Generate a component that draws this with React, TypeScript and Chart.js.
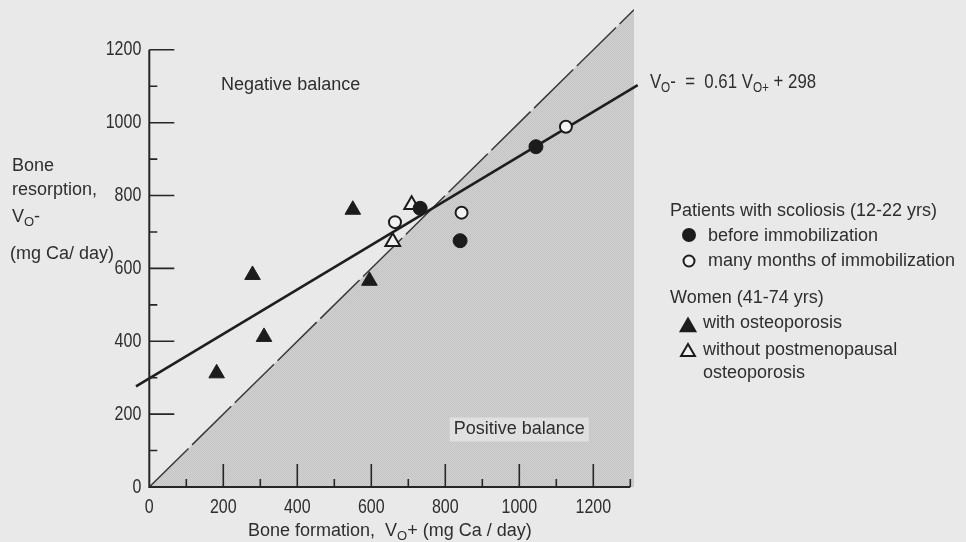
import React, { useEffect, useRef } from "react";
import { Chart, registerables } from "chart.js";

Chart.register(...registerables);

// ---- data ----
const filledCircles = [
  { x: 732, y: 765 },
  { x: 840, y: 676 },
  { x: 1045, y: 934 },
];
const openCircles = [
  { x: 664, y: 727 },
  { x: 844, y: 753 },
  { x: 1126, y: 989 },
];
const filledTriangles = [
  { x: 182, y: 312 },
  { x: 279, y: 582 },
  { x: 310, y: 412 },
  { x: 550, y: 761 },
  { x: 595, y: 566 },
];
const openTriangles = [
  { x: 658, y: 673 },
  { x: 709, y: 775 },
];
// fitted line V- = 0.61 V+ + 298, end points as drawn
const regressionLine = [
  { x: -36, y: 276 },
  { x: 1320, y: 1103 },
];
// balance line V- = V+
const equalityLine = [
  { x: 0, y: 0 },
  { x: 1310, y: 1310 },
];
const xTickValues = [0, 200, 400, 600, 800, 1000, 1200];
const yTickValues = [0, 200, 400, 600, 800, 1000, 1200];
const xMinorTicks = [100, 300, 500, 700, 900, 1100, 1300];
const yMinorTicks = [100, 300, 500, 700, 900, 1100];

const legendHeaders = ["Patients with scoliosis (12-22 yrs)", "Women (41-74 yrs)"];
const legendLabels = [
  "before immobilization",
  "many months of immobilization",
  "with osteoporosis",
  "without postmenopausal",
  "osteoporosis",
];

const BG = "rgb(233,233,233)";
const INK = "#262626";
const TEXT = "#2e2e2e";
const FONT = "'Liberation Sans', Arial, sans-serif";

type Seg = { t: string; sub?: boolean };

function drawRich(
  ctx: CanvasRenderingContext2D,
  segs: Seg[],
  x: number,
  y: number,
  size: number,
  sx: number = 1
) {
  ctx.save();
  ctx.translate(x, y);
  ctx.scale(sx, 1);
  ctx.textBaseline = "middle";
  ctx.textAlign = "left";
  ctx.fillStyle = TEXT;
  let cx = 0;
  for (const s of segs) {
    const sz = s.sub ? Math.round(size * 0.72) : size;
    ctx.font = `${sz}px ${FONT}`;
    ctx.fillText(s.t, cx, s.sub ? size * 0.28 : 0);
    cx += ctx.measureText(s.t).width;
  }
  ctx.restore();
}

function drawCondensed(
  ctx: CanvasRenderingContext2D,
  text: string,
  x: number,
  y: number,
  align: "left" | "center" | "right",
  size: number,
  sx: number
) {
  ctx.save();
  ctx.translate(x, y);
  ctx.scale(sx, 1);
  ctx.font = `${size}px ${FONT}`;
  ctx.textAlign = align;
  ctx.textBaseline = "middle";
  ctx.fillStyle = TEXT;
  ctx.fillText(text, 0, 0);
  ctx.restore();
}

function marker(
  ctx: CanvasRenderingContext2D,
  kind: "circle" | "triangle",
  filled: boolean,
  x: number,
  y: number,
  r: number
) {
  ctx.save();
  ctx.beginPath();
  if (kind === "circle") {
    ctx.arc(x, y, r, 0, Math.PI * 2);
  } else {
    const a = (2 * Math.PI) / 3;
    ctx.moveTo(x, y - r);
    ctx.lineTo(x + Math.sin(a) * r, y - Math.cos(a) * r);
    ctx.lineTo(x + Math.sin(2 * a) * r, y - Math.cos(2 * a) * r);
    ctx.closePath();
  }
  ctx.fillStyle = filled ? "#1c1c1c" : "#f2f2f2";
  ctx.fill();
  ctx.lineWidth = 2;
  ctx.strokeStyle = "#1c1c1c";
  ctx.stroke();
  ctx.restore();
}

const decorPlugin = {
  id: "decor",
  afterDatasetsDraw(chart: any) {
    const ctx: CanvasRenderingContext2D = chart.ctx;
    const xs = chart.scales.x;
    const ys = chart.scales.y;
    const x0 = xs.getPixelForValue(0);
    const y0 = ys.getPixelForValue(0);

    // "Positive balance" label box
    ctx.save();
    ctx.font = `18px ${FONT}`;
    const pbx = xs.getPixelForValue(1000);
    const pby = ys.getPixelForValue(158);
    const pw = ctx.measureText("Positive balance").width;
    ctx.fillStyle = "rgb(224,224,224)";
    ctx.fillRect(pbx - pw / 2 - 4, pby - 12, pw + 8, 24);
    ctx.fillStyle = TEXT;
    ctx.textAlign = "center";
    ctx.textBaseline = "middle";
    ctx.fillText("Positive balance", pbx, pby);
    ctx.fillText("Negative balance", xs.getPixelForValue(382), ys.getPixelForValue(1104));
    ctx.restore();

    // axes
    ctx.save();
    ctx.strokeStyle = INK;
    ctx.lineWidth = 2;
    ctx.beginPath();
    ctx.moveTo(x0, ys.getPixelForValue(1200));
    ctx.lineTo(x0, y0);
    ctx.lineTo(xs.getPixelForValue(1300), y0);
    ctx.stroke();
    ctx.lineWidth = 1.6;
    ctx.beginPath();
    for (const v of yTickValues) {
      if (v === 0) continue;
      const p = ys.getPixelForValue(v);
      ctx.moveTo(x0, p);
      ctx.lineTo(x0 + 25, p);
    }
    for (const v of yMinorTicks) {
      const p = ys.getPixelForValue(v);
      ctx.moveTo(x0, p);
      ctx.lineTo(x0 + 8, p);
    }
    for (const v of xTickValues) {
      if (v === 0) continue;
      const p = xs.getPixelForValue(v);
      ctx.moveTo(p, y0);
      ctx.lineTo(p, y0 - 23);
    }
    for (const v of xMinorTicks) {
      const p = xs.getPixelForValue(v);
      ctx.moveTo(p, y0);
      ctx.lineTo(p, y0 - 8);
    }
    ctx.stroke();
    ctx.restore();

    // tick labels (condensed figures)
    for (const v of yTickValues) {
      drawCondensed(ctx, String(v), x0 - 8, ys.getPixelForValue(v), "right", 20, 0.8);
    }
    for (const v of xTickValues) {
      drawCondensed(ctx, String(v), xs.getPixelForValue(v), y0 + 20, "center", 20, 0.8);
    }

    // equation
    drawRich(
      ctx,
      [
        { t: "V" },
        { t: "O", sub: true },
        { t: "-  =  0.61 V" },
        { t: "O+", sub: true },
        { t: " + 298" },
      ],
      xs.getPixelForValue(1353),
      ys.getPixelForValue(1109),
      20,
      0.84
    );

    // y title
    drawRich(ctx, [{ t: "Bone" }], 12, 166, 18);
    drawRich(ctx, [{ t: "resorption," }], 12, 190, 18);
    drawRich(ctx, [{ t: "V" }, { t: "O", sub: true }, { t: "-" }], 12, 217, 18);
    drawRich(ctx, [{ t: "(mg Ca/ day)" }], 10, 254, 18);

    // x title
    drawRich(
      ctx,
      [
        { t: "Bone formation,  V" },
        { t: "O", sub: true },
        { t: "+ (mg Ca / day)" },
      ],
      248,
      531,
      18
    );

    // legend
    drawRich(ctx, [{ t: legendHeaders[0] }], 670, 211, 18);
    marker(ctx, "circle", true, 689, 235, 6);
    drawRich(ctx, [{ t: legendLabels[0] }], 708, 236, 18);
    marker(ctx, "circle", false, 689, 261, 5.5);
    drawRich(ctx, [{ t: legendLabels[1] }], 708, 261, 18);
    drawRich(ctx, [{ t: legendHeaders[1] }], 670, 298, 18);
    marker(ctx, "triangle", true, 688, 327, 8.5);
    drawRich(ctx, [{ t: legendLabels[2] }], 703, 323, 18);
    marker(ctx, "triangle", false, 688, 352, 8);
    drawRich(ctx, [{ t: legendLabels[3] }], 703, 350, 18);
    drawRich(ctx, [{ t: legendLabels[4] }], 703, 373, 18);
  },
};

function makeStipple(): CanvasPattern | string {
  const c = document.createElement("canvas");
  c.width = 2;
  c.height = 2;
  const g = c.getContext("2d");
  if (!g) return "rgb(203,203,203)";
  g.fillStyle = "rgb(209,209,209)";
  g.fillRect(0, 0, 2, 2);
  g.fillStyle = "rgb(196,196,196)";
  g.fillRect(0, 0, 1, 1);
  g.fillRect(1, 1, 1, 1);
  const p = g.createPattern(c, "repeat");
  return p || "rgb(203,203,203)";
}

export default function App() {
  const ref = useRef<HTMLCanvasElement | null>(null);

  useEffect(() => {
    if (!ref.current) return;
    const stipple = makeStipple();
    const chart = new Chart(ref.current, {
      type: "scatter",
      data: {
        datasets: [
          {
            label: "before immobilization",
            data: filledCircles,
            pointStyle: "circle",
            pointRadius: 7,
            backgroundColor: "#1c1c1c",
            borderColor: "#1c1c1c",
            borderWidth: 1,
            order: 1,
          },
          {
            label: "many months of immobilization",
            data: openCircles,
            pointStyle: "circle",
            pointRadius: 6,
            backgroundColor: "#f2f2f2",
            borderColor: "#1c1c1c",
            borderWidth: 2,
            order: 1,
          },
          {
            label: "with osteoporosis",
            data: filledTriangles,
            pointStyle: "triangle",
            pointRadius: 9,
            backgroundColor: "#1c1c1c",
            borderColor: "#1c1c1c",
            borderWidth: 1,
            order: 1,
          },
          {
            label: "without postmenopausal osteoporosis",
            data: openTriangles,
            pointStyle: "triangle",
            pointRadius: 8.5,
            backgroundColor: "#f2f2f2",
            borderColor: "#1c1c1c",
            borderWidth: 2,
            order: 1,
          },
          {
            type: "line",
            label: "regression",
            data: regressionLine,
            borderColor: "#1e1e1e",
            borderWidth: 2.6,
            pointRadius: 0,
            fill: false,
            clip: false,
            order: 5,
          } as any,
          {
            type: "line",
            label: "balance",
            data: equalityLine,
            borderColor: "#3a3a3a",
            borderWidth: 1.5,
            borderDash: [55, 5],
            pointRadius: 0,
            fill: "origin",
            backgroundColor: stipple,
            order: 10,
          } as any,
        ],
      },
      options: {
        animation: false,
        responsive: true,
        maintainAspectRatio: false,
        layout: {
          autoPadding: false,
          padding: { top: 5, right: 332, left: 0, bottom: 0 },
        },
        plugins: {
          legend: { display: false },
          tooltip: { enabled: false },
        },
        scales: {
          x: {
            type: "linear",
            min: 0,
            max: 1310,
            grid: { display: false, drawTicks: false },
            border: { display: false },
            ticks: { display: false },
            afterFit: (s: any) => {
              s.height = 55;
            },
          },
          y: {
            type: "linear",
            min: 0,
            max: 1323,
            grid: { display: false, drawTicks: false },
            border: { display: false },
            ticks: { display: false },
            afterFit: (s: any) => {
              s.width = 149.3;
            },
          },
        },
      },
      plugins: [decorPlugin],
    });
    return () => chart.destroy();
  }, []);

  return (
    <div
      style={{
        position: "fixed",
        left: 0,
        top: 0,
        width: 966,
        height: 542,
        background: BG,
      }}
    >
      <canvas ref={ref} />
    </div>
  );
}
